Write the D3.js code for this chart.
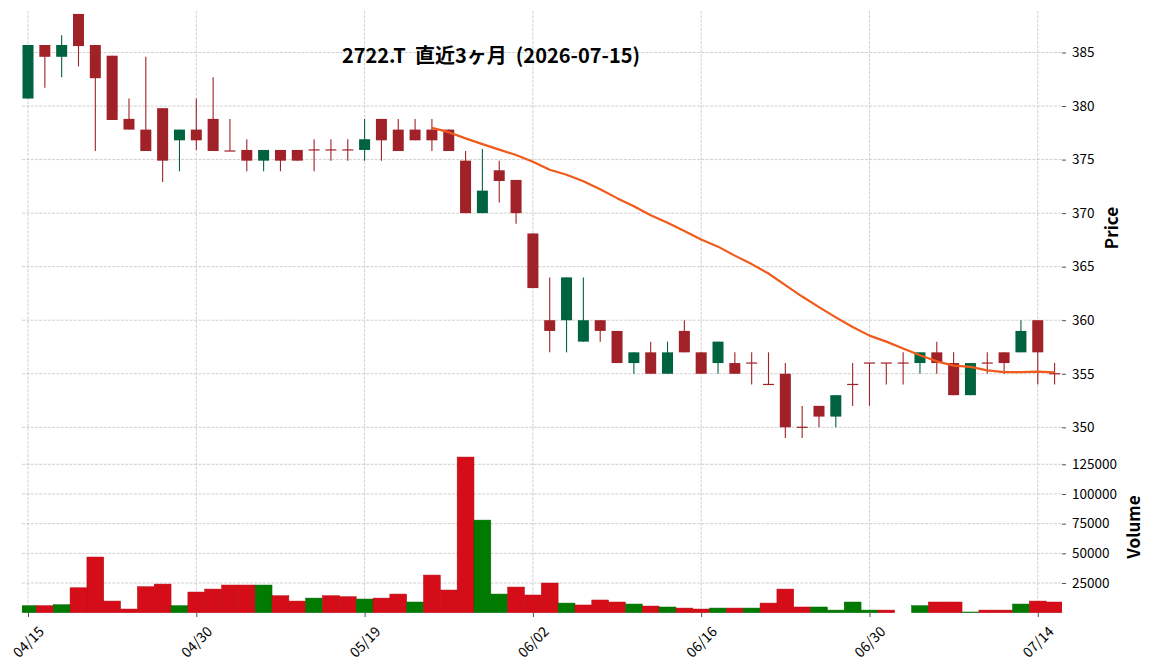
<!DOCTYPE html>
<html>
<head>
<meta charset="utf-8">
<script src="https://cdn.jsdelivr.net/npm/d3@7"></script>
<style>
  html, body { margin: 0; padding: 0; background: #ffffff; }
  svg { display: block; }
  text { font-family: "Noto Sans CJK JP", "Noto Sans", sans-serif; fill: #000; }
</style>
</head>
<body>
<svg id="chart" width="1152" height="670"></svg>
<script>
// ---------------- data ----------------
const titleText = "2722.T  直近3ヶ月  (2026-07-15)";

const dates = ["04/15","04/16","04/17","04/20","04/21","04/22","04/23","04/24","04/27","04/28",
  "04/30","05/01","05/07","05/08","05/11","05/12","05/13","05/14","05/15","05/18",
  "05/19","05/20","05/21","05/22","05/25","05/26","05/27","05/28","05/29","06/01",
  "06/02","06/03","06/04","06/05","06/08","06/09","06/10","06/11","06/12","06/15",
  "06/16","06/17","06/18","06/19","06/22","06/23","06/24","06/25","06/26","06/29",
  "06/30","07/01","07/02","07/03","07/06","07/07","07/08","07/09","07/10","07/13",
  "07/14","07/15"];

const opens = [380.7,385.7,384.6,388.6,385.7,384.7,378.8,377.8,379.8,376.8,
  377.8,378.8,375.8,375.9,374.9,375.9,375.9,375.9,375.9,375.9,
  375.9,378.8,377.8,377.8,377.8,377.8,374.9,370.0,374.0,373.1,
  368.1,360,360,358,360,359,356,357,355,359,
  357,356,356,356,354,355,350,352,351,354,
  356,356,356,356,357,356,353,356,357,357,
  360,355];
const highs = [385.7,385.7,386.6,388.6,385.7,384.7,380.7,384.6,379.8,377.8,
  380.7,382.7,378.8,376.9,375.9,375.9,375.9,376.9,376.9,376.9,
  378.8,378.8,378.8,378.8,378.8,377.8,375.8,376.0,374.9,373.1,
  368.1,364,364,364,360,359,357,358,358,360,
  357,358,357,357,357,356,352,352,353,356,
  356,356,357,357,358,357,356,357,357,360,
  360,356];
const lows = [380.7,381.7,382.7,383.7,375.8,378.7,377.8,375.8,372.9,373.9,
  375.9,375.8,375.8,373.9,373.9,373.9,374.9,373.9,374.9,374.9,
  374.9,374.9,375.8,376.8,375.8,375.8,370.0,370.0,371.0,369.0,
  363.0,357,357,358,358,356,355,355,355,357,
  355,355,355,354,354,349,349,350,350,352,
  352,354,354,355,355,353,353,355,355,357,
  354,354];
const closes = [385.7,384.6,385.7,385.6,382.6,378.7,377.8,375.8,374.9,377.8,
  376.8,375.8,375.8,374.9,375.9,374.9,374.9,375.9,375.9,375.9,
  376.9,376.8,375.8,376.8,376.8,375.8,370.0,372.1,373.0,370.0,
  363.0,359,364,360,359,356,357,355,357,357,
  355,358,355,356,354,350,350,351,353,354,
  356,356,356,357,356,353,356,356,356,359,
  357,355];
const volumes = [5900,5900,6700,21000,46900,9800,3100,21900,24100,5900,
  17400,19900,23300,23300,23300,14300,9800,12300,14300,13500,
  11500,12300,15700,9000,31700,19100,131100,78000,15700,21600,
  14900,25000,8100,6500,10700,9000,7300,5600,4800,3900,
  3100,3900,3900,3900,8100,19900,4800,4800,2200,9000,
  2200,2200,0,5900,9000,9000,600,2200,2200,7300,
  9800,9000];
// 25-day moving average, starting at index 24
const maStart = 24;
const maValues = [377.96,377.56,376.98,376.44,375.93,375.43,374.80,374.05,373.58,372.98,
  372.23,371.40,370.64,369.81,369.10,368.34,367.54,366.87,366.03,365.24,
  364.36,363.28,362.21,361.22,360.27,359.36,358.56,358.00,357.36,356.72,
  356.16,355.76,355.64,355.32,355.16,355.16,355.20,355.12];

const xTickIdx = [0,10,20,30,40,50,60];
const priceTicks = [350,355,360,365,370,375,380,385];
const volumeTicks = [25000,50000,75000,100000,125000];

// ---------------- layout ----------------
const svg = d3.select("#chart");
const plotL = 22, plotR = 1062;
const priceTop = 11, priceBot = 440;
const volTop = 441, volBot = 613;

const COL = {
  up: "#006340", down: "#a02128",
  vup: "#007a00", vdown: "#d50d18",
  grid: "#c4c4c4", ma: "#f05a1a"
};

const x = d3.scaleLinear().domain([-0.357, 61.44]).range([plotL, plotR]);
const yP = d3.scaleLinear().domain([350, 385]).range([427.3, 52.5]);
const yV = d3.scaleLinear().domain([0, 125000]).range([612.7, 464.3]);
const step = x(1) - x(0);

const defs = svg.append("defs");
defs.append("clipPath").attr("id", "clipP").append("rect")
  .attr("x", plotL).attr("y", priceTop).attr("width", plotR - plotL).attr("height", priceBot - priceTop);
defs.append("clipPath").attr("id", "clipV").append("rect")
  .attr("x", plotL).attr("y", volTop).attr("width", plotR - plotL).attr("height", volBot - volTop);

// ---------------- grid ----------------
const grid = svg.append("g").attr("stroke", COL.grid).attr("stroke-width", 0.8)
  .attr("stroke-dasharray", "3,1.3").attr("fill", "none");
grid.selectAll("line.v").data(xTickIdx).join("line")
  .attr("x1", d => x(d)).attr("x2", d => x(d))
  .attr("y1", priceTop).attr("y2", volBot);
grid.selectAll("line.hp").data(priceTicks).join("line")
  .attr("x1", plotL).attr("x2", plotR)
  .attr("y1", d => yP(d)).attr("y2", d => yP(d));
grid.selectAll("line.hv").data(volumeTicks).join("line")
  .attr("x1", plotL).attr("x2", plotR)
  .attr("y1", d => yV(d)).attr("y2", d => yV(d));

// ---------------- candles ----------------
const candles = d3.range(dates.length).map(i => ({
  i, o: opens[i], h: highs[i], l: lows[i], c: closes[i]
}));
const cg = svg.append("g").attr("clip-path", "url(#clipP)");
const bodyW = 11;
cg.selectAll("line.wick").data(candles).join("line")
  .attr("x1", d => x(d.i)).attr("x2", d => x(d.i))
  .attr("y1", d => yP(d.h)).attr("y2", d => yP(d.l))
  .attr("stroke", d => d.c > d.o ? COL.up : COL.down)
  .attr("stroke-width", 1.1);
cg.selectAll("rect.body").data(candles).join("rect")
  .attr("x", d => x(d.i) - bodyW / 2)
  .attr("width", bodyW)
  .attr("y", d => Math.min(yP(d.o), yP(d.c)) - (Math.abs(yP(d.o) - yP(d.c)) < 1 ? 0.6 : 0))
  .attr("height", d => Math.max(1.2, Math.abs(yP(d.o) - yP(d.c))))
  .attr("fill", d => d.c > d.o ? COL.up : COL.down);

// moving average
const maPts = maValues.map((v, k) => [maStart + k, v]);
cg.append("path").datum(maPts)
  .attr("fill", "none").attr("stroke", COL.ma).attr("stroke-width", 2.2)
  .attr("stroke-linejoin", "round")
  .attr("d", d3.line().x(d => x(d[0])).y(d => yP(d[1])));

// ---------------- volume ----------------
const vg = svg.append("g").attr("clip-path", "url(#clipV)");
const vols = volumes.map((v, i) => ({ i, v, up: i === 0 ? true : closes[i] > closes[i - 1] }));
vg.selectAll("rect").data(vols.filter(d => d.v > 0)).join("rect")
  .attr("x", d => x(d.i - 0.5)).attr("width", step)
  .attr("y", d => yV(d.v)).attr("height", d => yV(0) - yV(d.v))
  .attr("fill", d => d.up ? COL.vup : COL.vdown)
  .attr("stroke", d => d3.color(d.up ? COL.vup : COL.vdown).darker(0.4))
  .attr("stroke-width", 0.5);

// ---------------- axes ----------------
function styleAxis(g, size) {
  g.select(".domain").remove();
  g.selectAll(".tick line").attr("stroke", "#222").attr("stroke-width", 0.8);
  g.selectAll(".tick text").style("font-size", size).attr("fill", "#000");
}
svg.append("g").attr("transform", `translate(${plotR},0)`)
  .call(d3.axisRight(yP).tickValues(priceTicks).tickSize(4).tickPadding(6).tickFormat(d3.format("d")))
  .call(styleAxis, "13.5px");
svg.append("g").attr("transform", `translate(${plotR},0)`)
  .call(d3.axisRight(yV).tickValues(volumeTicks).tickSize(4).tickPadding(6).tickFormat(d3.format("d")))
  .call(styleAxis, "13.5px");
const xa = svg.append("g").attr("transform", `translate(0,${volBot})`)
  .call(d3.axisBottom(x).tickValues(xTickIdx).tickSize(4).tickFormat(i => dates[i]))
  .call(styleAxis, "14px");
xa.selectAll(".tick text")
  .attr("y", 0).attr("dy", "0.35em")
  .attr("transform", "translate(0,29) rotate(-45)")
  .style("text-anchor", "middle");

// ---------------- labels ----------------
svg.append("text")
  .attr("x", 491).attr("y", 63)
  .attr("text-anchor", "middle")
  .style("font-size", "20px").style("font-weight", "700")
  .style("white-space", "pre")
  .text(titleText);

svg.append("text")
  .attr("transform", "translate(1110,228) rotate(-90)")
  .attr("text-anchor", "middle").attr("dominant-baseline", "central")
  .style("font-size", "17px").style("font-weight", "700")
  .text("Price");
svg.append("text")
  .attr("transform", "translate(1132,527) rotate(-90)")
  .attr("text-anchor", "middle").attr("dominant-baseline", "central")
  .style("font-size", "17px").style("font-weight", "700")
  .text("Volume");
</script>
</body>
</html>
